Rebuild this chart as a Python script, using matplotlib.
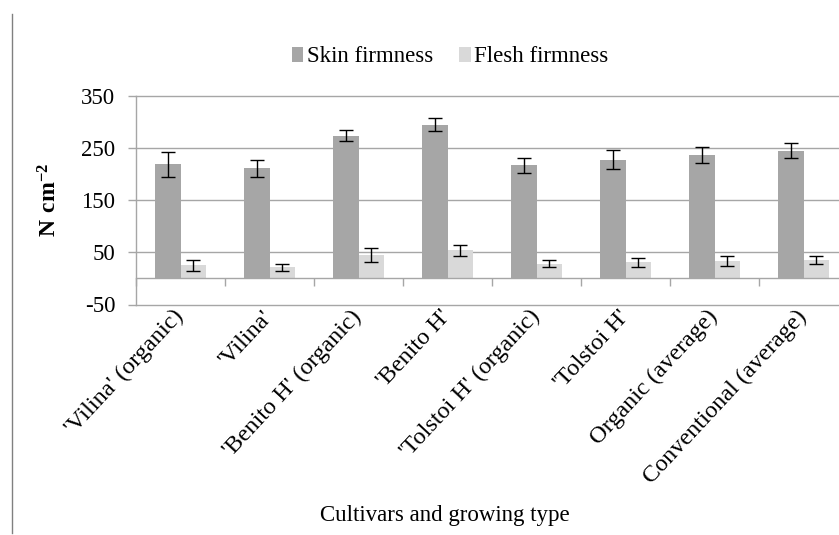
import numpy as np
import matplotlib
matplotlib.use("Agg")
import matplotlib.pyplot as plt
from matplotlib.lines import Line2D

categories = ["'Vilina' (organic)", "'Vilina'", "'Benito H' (organic)", "'Benito H'",
              "'Tolstoi H' (organic)", "'Tolstoi H'", "Organic (average)", "Conventional (average)"]
skin = [219, 211, 274, 295, 217, 228, 237, 245]
skin_err = [24, 16, 10, 12, 15, 19, 16, 14]
flesh = [25, 21, 45, 54, 28, 31, 33, 36]
flesh_err = [10, 7, 13, 10, 7, 9, 10, 8]
yticks = [-50, 50, 150, 250, 350]
series_names = ["Skin firmness", "Flesh firmness"]

plt.rcParams['font.family'] = ['Liberation Serif', 'DejaVu Serif']
plt.rcParams['mathtext.fontset'] = 'custom'
plt.rcParams['mathtext.rm'] = 'Liberation Serif'
plt.rcParams['mathtext.bf'] = 'Liberation Serif:bold'
plt.rcParams['axes.unicode_minus'] = False

W, H = 839, 535
fig = plt.figure(figsize=(W / 100, H / 100), dpi=100)
ax = fig.add_axes([136 / W, 1 - 304.5 / H, 712 / W, 208.5 / H])

grid_c = '#A6A6A6'
x = np.arange(len(categories))
bw = 0.287
ekw = dict(ecolor='black', elinewidth=1.0, capsize=5, capthick=1.0)
b1 = ax.bar(x - bw / 2, skin, bw, color='#A6A6A6', yerr=skin_err, error_kw=ekw,
            label=series_names[0], zorder=3)
b2 = ax.bar(x + bw / 2, flesh, bw, color='#D9D9D9', yerr=flesh_err, error_kw=ekw,
            label=series_names[1], zorder=3)

ax.set_xlim(-0.5, len(categories) - 0.5)
ax.set_ylim(-50, 350)
ax.set_yticks(yticks)
ax.yaxis.grid(True, color=grid_c, linewidth=1.0, zorder=0)
ax.set_axisbelow(True)
for gl in ax.yaxis.get_gridlines():
    gl.set_clip_on(False)

for s in ['top', 'right']:
    ax.spines[s].set_visible(False)
ax.spines['left'].set_color(grid_c)
ax.spines['left'].set_linewidth(1.0)
ax.spines['bottom'].set_position(('data', 0))
ax.spines['bottom'].set_color(grid_c)
ax.spines['bottom'].set_linewidth(1.0)
ax.spines['bottom'].set_zorder(4)

ax.set_xticks(x)
ax.set_xticks(np.arange(len(categories) + 1) - 0.5, minor=True)
ax.tick_params(axis='x', which='major', length=0, pad=25)
ax.tick_params(axis='x', which='minor', length=6, width=1.0, color=grid_c, direction='out')
ax.set_xticklabels(categories, rotation=47, ha='right', va='center',
                   rotation_mode='anchor', fontsize=17.5)
ax.tick_params(axis='y', length=6, width=1.0, color=grid_c, pad=9, labelsize=16.5)

ax.set_ylabel(r'$\mathbf{N\ cm^{-2}}$', fontsize=17)
ax.yaxis.set_label_coords(-0.104, 0.5)
ax.set_xlabel('Cultivars and growing type', fontsize=16.5)
ax.xaxis.set_label_coords(0.434, -1.014)
ax.xaxis.label.set_va('center')

fig.legend(handles=[b1, b2], loc='center', bbox_to_anchor=(450 / W, 1 - 57 / H),
           ncol=2, frameon=False, fontsize=16.5, handlelength=0.5, handleheight=0.65,
           handletextpad=0.15, columnspacing=1.15, borderaxespad=0)

fig.add_artist(Line2D([11.7 / W, 11.7 / W], [1 - 14 / H, 0.003], transform=fig.transFigure,
                      color='#808080', linewidth=1.0))

fig.savefig('out.png', dpi=100)
